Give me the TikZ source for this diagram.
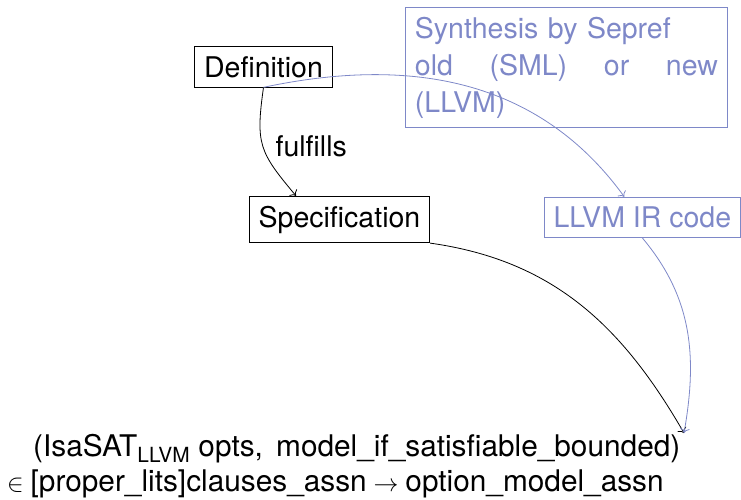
\documentclass[tikz,border=0pt]{standalone}
\usepackage{fontspec}
\setmainfont{TeX Gyre Heros}
\usetikzlibrary{arrows.meta}
\definecolor{synblue}{RGB}{126,136,200}
\begin{document}
\begin{tikzpicture}[x=1pt,y=1pt,
  every node/.style={font=\fontsize{28.5}{37}\selectfont},
  box/.style={draw, line width=0.8pt, inner sep=9.5pt},
  bluebox/.style={draw=synblue, text=synblue, line width=0.9pt, inner sep=9.5pt},
  conn/.style={line width=0.8pt, -{To[scale=1.4]}},
  bconn/.style={line width=0.8pt, -{To[scale=1.4]}, draw=synblue},
  plain/.style={inner sep=0pt, anchor=base west, font=\fontsize{29.8}{36}\selectfont}
]
\useasboundingbox (0,0) rectangle (741,-499);

\node[box, anchor=base] (def) at (263.5,-77) {Definition};
\node[box, anchor=base] (spec) at (339.5,-227) {Specification};
\node[bluebox, anchor=base] (llvm) at (642.3,-227.5) {LLVM IR code};
\node[bluebox, anchor=north west, text width=303pt] (syn) at (405,-7)
  {Synthesis by Sepref\\ old\hfill (SML)\hfill or\hfill new\\ (LLVM)};

\node[plain] (line1) at (33,-456)
  {(IsaSAT\textsubscript{LLVM}\ opts,\,\ model\_if\_satisfiable\_bounded)};
\node[plain] (line2) at (7,-491)
  {$\in\mbox{[proper\_lits]clauses\_assn}\to\mbox{option\_model\_assn}$};
\coordinate (goal) at (684,-433);

\draw[conn] (def.south) to[out=-98, in=130, looseness=1.3]
  node[right, pos=0.5, xshift=9pt] (ful) {fulfills} ([xshift=-43.5pt]spec.north);
\draw[bconn] (def.south) to[out=12, in=126] ([xshift=-18pt]llvm.north);
\draw[conn] (spec.south east) to[out=-8, in=120] (goal);
\draw[bconn] (llvm.south) to[out=-50, in=80] (goal);
\end{tikzpicture}
\end{document}
